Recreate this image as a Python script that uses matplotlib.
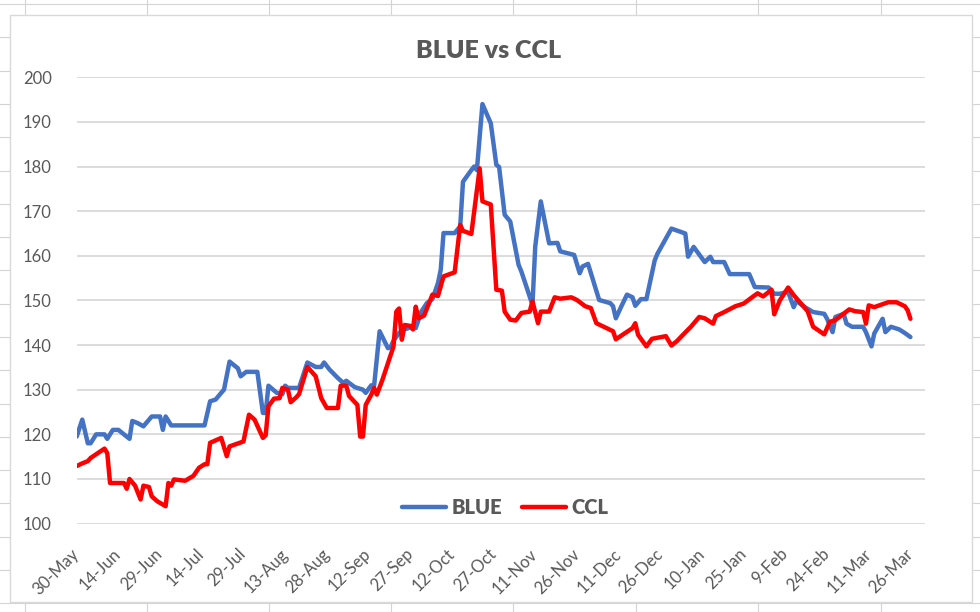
import numpy as np
import pandas as pd
import matplotlib
matplotlib.use("Agg")
import matplotlib.pyplot as plt
import matplotlib.dates as mdates
from matplotlib.lines import Line2D
from matplotlib.patches import Rectangle

"""
BLUE vs CCL - values read off the chart (daily quotes, May 2020 - Mar 2021)
"""
blue_dates = [
    "2020-05-30", "2020-06-01", "2020-06-03", "2020-06-04", "2020-06-06", "2020-06-09",
    "2020-06-10", "2020-06-12", "2020-06-14", "2020-06-18", "2020-06-19", "2020-06-21",
    "2020-06-23", "2020-06-26", "2020-06-29", "2020-06-30", "2020-07-01", "2020-07-03",
    "2020-07-15", "2020-07-17", "2020-07-19", "2020-07-21", "2020-07-22", "2020-07-24",
    "2020-07-25", "2020-07-27", "2020-07-28", "2020-07-30", "2020-08-03", "2020-08-05",
    "2020-08-06", "2020-08-07", "2020-08-10", "2020-08-12", "2020-08-13", "2020-08-14",
    "2020-08-18", "2020-08-21", "2020-08-24", "2020-08-26", "2020-08-27", "2020-08-29",
    "2020-09-01", "2020-09-03", "2020-09-04", "2020-09-07", "2020-09-10", "2020-09-11",
    "2020-09-13", "2020-09-14", "2020-09-16", "2020-09-19", "2020-09-20", "2020-09-21",
    "2020-09-23", "2020-09-25", "2020-09-28", "2020-09-29", "2020-10-01", "2020-10-03",
    "2020-10-05", "2020-10-07", "2020-10-08", "2020-10-09", "2020-10-13", "2020-10-15",
    "2020-10-16", "2020-10-19", "2020-10-20", "2020-10-21", "2020-10-23", "2020-10-26",
    "2020-10-28", "2020-10-29", "2020-10-31", "2020-11-02", "2020-11-05", "2020-11-06",
    "2020-11-10", "2020-11-11", "2020-11-13", "2020-11-16", "2020-11-19", "2020-11-20",
    "2020-11-25", "2020-11-27", "2020-11-28", "2020-11-30", "2020-12-04", "2020-12-08",
    "2020-12-09", "2020-12-10", "2020-12-12", "2020-12-14", "2020-12-16", "2020-12-17",
    "2020-12-19", "2020-12-21", "2020-12-24", "2020-12-25", "2020-12-30", "2021-01-04",
    "2021-01-05", "2021-01-07", "2021-01-11", "2021-01-13", "2021-01-14", "2021-01-18",
    "2021-01-20", "2021-01-27", "2021-01-29", "2021-02-03", "2021-02-05", "2021-02-07",
    "2021-02-10", "2021-02-12", "2021-02-13", "2021-02-16", "2021-02-19", "2021-02-23",
    "2021-02-24", "2021-02-26", "2021-02-27", "2021-03-02", "2021-03-03", "2021-03-05",
    "2021-03-09", "2021-03-10", "2021-03-12", "2021-03-13", "2021-03-16", "2021-03-17",
    "2021-03-19", "2021-03-22", "2021-03-24", "2021-03-26",
]
blue_values = [
    119.5, 123.3, 118.0, 118.0, 120.0, 120.0,
    119.0, 121.0, 121.0, 119.0, 123.0, 122.5,
    121.8, 124.0, 124.0, 121.0, 124.0, 122.0,
    122.0, 127.4, 127.8, 129.3, 130.0, 136.3,
    135.8, 134.8, 133.0, 134.0, 134.0, 124.8,
    124.8, 130.9, 129.3, 129.0, 130.9, 130.4,
    130.4, 136.1, 135.1, 135.1, 136.1, 134.5,
    132.6, 131.5, 132.0, 130.6, 130.0, 129.3,
    131.0, 130.8, 143.1, 139.3, 139.6, 141.0,
    142.7, 143.5, 144.2, 143.8, 147.5, 149.4,
    150.3, 153.9, 156.9, 165.1, 165.1, 166.6,
    176.6, 179.2, 180.0, 179.2, 194.0, 189.7,
    180.4, 179.9, 169.2, 167.7, 158.0, 156.5,
    149.0, 162.1, 172.2, 162.8, 162.9, 161.0,
    160.2, 156.1, 157.6, 158.2, 150.1, 149.4,
    148.7, 146.0, 148.7, 151.3, 150.7, 148.8,
    150.3, 150.3, 159.0, 160.5, 166.1, 165.0,
    159.8, 162.0, 158.6, 159.8, 158.6, 158.6,
    155.9, 155.9, 153.0, 152.9, 151.5, 151.5,
    151.9, 148.5, 149.9, 148.5, 147.4, 147.0,
    145.9, 142.9, 146.3, 147.0, 144.8, 144.1,
    144.1, 142.9, 139.7, 142.6, 145.9, 142.9,
    144.1, 143.5, 142.7, 141.8,
]

ccl_dates = [
    "2020-05-30", "2020-06-01", "2020-06-03", "2020-06-04", "2020-06-09", "2020-06-10",
    "2020-06-11", "2020-06-16", "2020-06-17", "2020-06-18", "2020-06-20", "2020-06-22",
    "2020-06-23", "2020-06-25", "2020-06-26", "2020-06-28", "2020-07-01", "2020-07-02",
    "2020-07-03", "2020-07-04", "2020-07-08", "2020-07-11", "2020-07-13", "2020-07-15",
    "2020-07-16", "2020-07-17", "2020-07-21", "2020-07-23", "2020-07-24", "2020-07-29",
    "2020-07-31", "2020-08-02", "2020-08-05", "2020-08-06", "2020-08-07", "2020-08-09",
    "2020-08-11", "2020-08-12", "2020-08-14", "2020-08-15", "2020-08-17", "2020-08-18",
    "2020-08-21", "2020-08-24", "2020-08-26", "2020-08-28", "2020-09-01", "2020-09-02",
    "2020-09-04", "2020-09-05", "2020-09-08", "2020-09-09", "2020-09-10", "2020-09-11",
    "2020-09-13", "2020-09-14", "2020-09-15", "2020-09-17", "2020-09-21", "2020-09-22",
    "2020-09-23", "2020-09-24", "2020-09-25", "2020-09-27", "2020-09-28", "2020-09-29",
    "2020-09-30", "2020-10-02", "2020-10-05", "2020-10-07", "2020-10-09", "2020-10-13",
    "2020-10-15", "2020-10-16", "2020-10-19", "2020-10-22", "2020-10-23", "2020-10-26",
    "2020-10-28", "2020-10-30", "2020-10-31", "2020-11-02", "2020-11-04", "2020-11-06",
    "2020-11-09", "2020-11-10", "2020-11-12", "2020-11-13", "2020-11-16", "2020-11-18",
    "2020-11-20", "2020-11-24", "2020-11-26", "2020-11-29", "2020-12-01", "2020-12-03",
    "2020-12-09", "2020-12-10", "2020-12-16", "2020-12-17", "2020-12-18", "2020-12-21",
    "2020-12-23", "2020-12-28", "2020-12-30", "2021-01-01", "2021-01-03", "2021-01-06",
    "2021-01-09", "2021-01-11", "2021-01-14", "2021-01-15", "2021-01-18", "2021-01-22",
    "2021-01-25", "2021-01-28", "2021-01-30", "2021-02-01", "2021-02-04", "2021-02-05",
    "2021-02-07", "2021-02-10", "2021-02-12", "2021-02-17", "2021-02-19", "2021-02-23",
    "2021-02-25", "2021-02-27", "2021-03-04", "2021-03-06", "2021-03-09", "2021-03-10",
    "2021-03-11", "2021-03-13", "2021-03-18", "2021-03-21", "2021-03-24", "2021-03-25",
    "2021-03-26",
]
ccl_values = [
    112.9, 113.5, 114.0, 114.7, 116.8, 115.8,
    109.1, 109.1, 107.8, 110.0, 108.5, 105.4,
    108.5, 108.2, 106.1, 105.0, 103.9, 109.1,
    108.5, 109.9, 109.6, 110.7, 112.5, 113.3,
    113.3, 118.1, 119.2, 115.1, 117.3, 118.4,
    124.4, 123.3, 119.2, 119.8, 126.3, 128.0,
    128.1, 130.4, 130.0, 127.2, 128.3, 129.0,
    135.1, 133.0, 128.1, 125.9, 125.9, 130.9,
    130.9, 128.6, 126.6, 119.5, 119.5, 126.6,
    128.9, 130.4, 128.9, 132.2, 139.7, 147.5,
    148.2, 141.2, 144.5, 144.3, 143.5, 148.6,
    146.0, 146.6, 151.3, 151.0, 155.4, 156.3,
    166.9, 165.6, 164.9, 179.6, 172.2, 171.5,
    152.4, 152.2, 147.5, 145.7, 145.5, 147.2,
    147.5, 149.8, 144.9, 147.5, 147.5, 150.7,
    150.4, 150.7, 150.1, 148.7, 148.3, 144.9,
    143.1, 141.3, 143.8, 144.9, 142.3, 139.7,
    141.4, 142.0, 139.9, 140.9, 142.2, 144.1,
    146.3, 146.0, 144.8, 146.5, 147.4, 148.7,
    149.3, 150.7, 151.6, 150.9, 152.4, 146.9,
    150.0, 152.9, 151.2, 147.6, 144.1, 142.4,
    145.2, 145.6, 148.0, 147.6, 147.4, 144.8,
    148.9, 148.5, 149.6, 149.6, 148.7, 147.8,
    145.9,
]

tick_dates = pd.date_range("2020-05-30", "2021-03-26", freq="15D")
y_ticks = np.arange(100, 201, 10)

blue_dates = pd.to_datetime(blue_dates)
ccl_dates = pd.to_datetime(ccl_dates)

W, H = 980, 612
FONT = "Lato"
GREY_TXT = "#595959"

fig = plt.figure(figsize=(W / 100, H / 100), dpi=100)
fig.patch.set_facecolor("white")

def px(x, y):
    # figure pixel (from top-left) -> figure fraction
    return x / W, 1 - y / H

# faint spreadsheet cells behind the chart object
for cx in [25, 147, 269, 391, 513, 636, 758, 881]:
    fig.add_artist(Line2D([cx / W, cx / W], [0, 1], color="#d4d4d4", lw=0.8, zorder=0))
for ry in np.arange(4, H, 33.3):
    fig.add_artist(Line2D([0, 1], [1 - ry / H, 1 - ry / H], color="#d4d4d4", lw=0.8, zorder=0))

# chart area
x0, y0 = px(10, 602)
x1, y1 = px(972, 15)
fig.add_artist(Rectangle((x0, y0), x1 - x0, y1 - y0, facecolor="white",
                         edgecolor="#d9d9d9", lw=1.0, zorder=1))

left, top = px(76.7, 77.3)
right, bottom = px(925, 523.6)
ax = fig.add_axes([left, bottom, right - left, top - bottom])
ax.set_zorder(2)
ax.patch.set_alpha(0)

ax.plot(blue_dates, blue_values, color="#4472C4", lw=3.2, solid_joinstyle="round",
        solid_capstyle="round", label="BLUE", zorder=3)
ax.plot(ccl_dates, ccl_values, color="#FF0000", lw=3.2, solid_joinstyle="round",
        solid_capstyle="round", label="CCL", zorder=4)

ax.set_ylim(100, 200)
ax.set_yticks(y_ticks)
ax.set_xlim(pd.Timestamp("2020-05-30"), pd.Timestamp("2021-03-31 06:00"))
ax.set_xticks(tick_dates)
ax.xaxis.set_major_formatter(mdates.DateFormatter("%-d-%b"))

ax.grid(axis="y", color="#d9d9d9", lw=1.3)
ax.set_axisbelow(True)
for s in ax.spines.values():
    s.set_visible(False)
ax.tick_params(axis="both", length=0, colors=GREY_TXT, labelsize=12)
ax.tick_params(axis="y", pad=18)
ax.tick_params(axis="x", pad=20)
for lab in ax.get_xticklabels():
    lab.set_rotation(45)
    lab.set_ha("right")
    lab.set_va("center")
    lab.set_rotation_mode("anchor")
    lab.set_family(FONT)
for lab in ax.get_yticklabels():
    lab.set_family(FONT)

leg = ax.legend(loc="center", bbox_to_anchor=(0.505, 0.035), ncol=2, frameon=False,
                handlelength=2.2, handletextpad=0.25, columnspacing=1.0,
                prop={"family": FONT, "weight": "heavy", "size": 14.5})
for t in leg.get_texts():
    t.set_color(GREY_TXT)

tx, ty = px(488.5, 51)
fig.text(tx, ty, "BLUE vs CCL", ha="center", va="center", fontsize=18,
         fontweight="heavy", family=FONT, color=GREY_TXT, zorder=5)

plt.savefig("out.png", dpi=100)
